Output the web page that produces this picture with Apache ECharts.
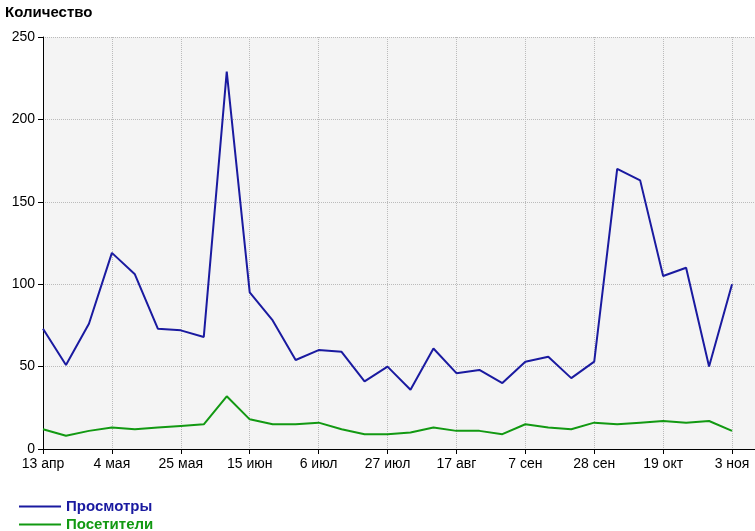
<!DOCTYPE html><html><head><meta charset="utf-8"><script src="https://cdn.jsdelivr.net/npm/echarts@6/dist/echarts.min.js"></script>
<style>body{margin:0;background:#fff}#c{width:755px;height:531px}</style></head><body><div id="c"></div><script>
const xLabels={0:'13 апр',3:'4 мая',6:'25 мая',9:'15 июн',12:'6 июл',15:'27 июл',18:'17 авг',21:'7 сен',24:'28 сен',27:'19 окт',30:'3 ноя'};
const views=[73,51,76,119,106,73,72,68,229,95,78,54,60,59,41,50,36,61,46,48,40,53,56,43,53,170,163,105,110,50,100];
const visitors=[12,8,11,13,12,13,14,15,32,18,15,15,16,12,9,9,10,13,11,11,9,15,13,12,16,15,16,17,16,17,11];
const ch=echarts.init(document.getElementById('c'));
const f='Liberation Sans';
const lg=(name,color,top)=>({left:14,top:top,itemWidth:42,itemHeight:2,icon:'rect',data:[name],
 textStyle:{fontFamily:f,fontSize:15,fontWeight:'bold',color:color}});
ch.setOption({animation:false,
title:{text:'Количество',left:0,top:0,textStyle:{fontFamily:f,fontSize:15,fontWeight:'bold',color:'#000'}},
legend:[lg('Просмотры','#1a1aa0',494),lg('Посетители','#129912',512)],
grid:{left:43,right:0,top:37,bottom:82,backgroundColor:'#f4f4f4',show:true,borderWidth:0},
xAxis:{type:'value',min:0,max:31,interval:3,
 axisLine:{lineStyle:{color:'#000'}},axisTick:{show:true,length:5,lineStyle:{color:'#000'}},
 axisLabel:{fontFamily:f,fontSize:14,color:'#000',showMaxLabel:false,formatter:v=>xLabels[v]||''},
 splitLine:{show:true,lineStyle:{color:'#bbb',type:'dotted'}}},
yAxis:{type:'value',min:0,max:250,interval:50,
 axisLine:{show:true,lineStyle:{color:'#000'}},axisTick:{show:true,length:5,lineStyle:{color:'#000'}},
 axisLabel:{fontFamily:f,fontSize:14,color:'#000'},
 splitLine:{lineStyle:{color:'#bbb',type:'dotted'}}},
series:[
 {name:'Просмотры',type:'line',symbol:'none',data:views.map((v,i)=>[i,v]),lineStyle:{color:'#1a1aa0',width:2},itemStyle:{color:'#1a1aa0'}},
 {name:'Посетители',type:'line',symbol:'none',data:visitors.map((v,i)=>[i,v]),lineStyle:{color:'#129912',width:2},itemStyle:{color:'#129912'}}
]});
</script></body></html>
